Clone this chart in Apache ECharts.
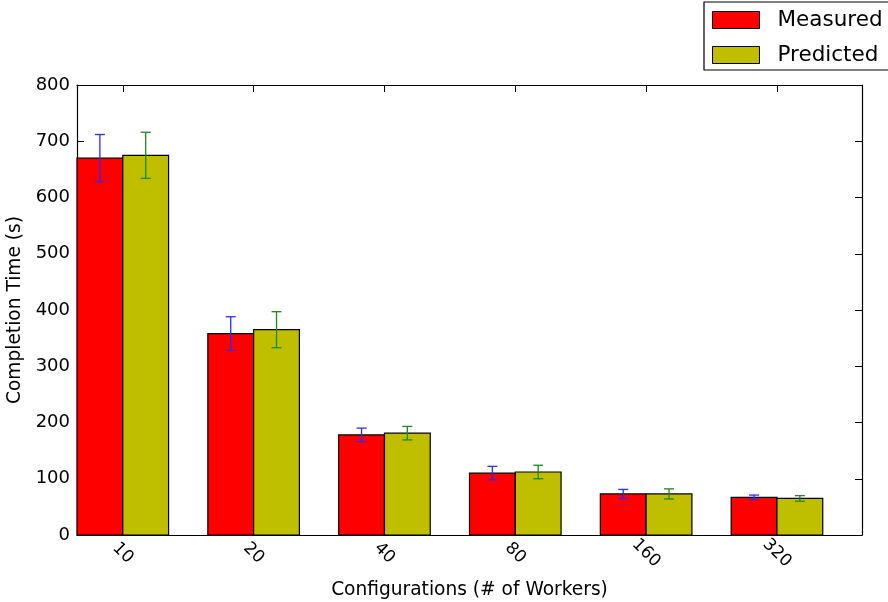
<!DOCTYPE html>
<html>
<head>
<meta charset="utf-8">
<script src="https://cdn.jsdelivr.net/npm/echarts@6/dist/echarts.min.js"></script>
<style>html,body{margin:0;padding:0;background:#fff;overflow:hidden}#c{width:888px;height:602px}</style>
</head>
<body>
<div id="c"></div>
<script>
var categories = ['10', '20', '40', '80', '160', '320'];
var measured = [670, 358, 178, 110, 73, 67];
var measuredErr = [42, 30, 12, 12, 8, 4];
var predicted = [675, 365, 181, 112, 73, 65];
var predictedErr = [41, 32, 12, 12, 9, 5];
var yTicks = [0, 100, 200, 300, 400, 500, 600, 700, 800];

var BAR_W = 0.35;
var FONT = 'DejaVu Sans';
var tickPos = categories.map(function (c, i) { return i + BAR_W; });

function makeData(vals, errs) {
  return vals.map(function (v, i) { return [i, v, errs[i]]; });
}

function makeRender(offset, errColor) {
  return function (params, api) {
    var i = api.value(0), v = api.value(1), e = api.value(2);
    var x0 = i + offset, x1 = x0 + BAR_W, xc = x0 + BAR_W / 2;
    var pTop = api.coord([x0, v]);
    var pBot = api.coord([x1, 0]);
    var eTop = api.coord([xc, v + e]);
    var eBot = api.coord([xc, v - e]);
    var cap = 5;
    var errStyle = { stroke: errColor, lineWidth: 1.3, fill: null };
    return {
      type: 'group',
      children: [
        { type: 'rect', shape: { x: pTop[0], y: pTop[1], width: pBot[0] - pTop[0], height: pBot[1] - pTop[1] },
          style: { fill: api.visual('color'), stroke: '#000', lineWidth: 1.2 } },
        { type: 'line', shape: { x1: eTop[0], y1: eTop[1], x2: eBot[0], y2: eBot[1] }, style: errStyle },
        { type: 'line', shape: { x1: eTop[0] - cap, y1: eTop[1], x2: eTop[0] + cap, y2: eTop[1] }, style: errStyle },
        { type: 'line', shape: { x1: eBot[0] - cap, y1: eBot[1], x2: eBot[0] + cap, y2: eBot[1] }, style: errStyle }
      ]
    };
  };
}

var chart = echarts.init(document.getElementById('c'), null, { renderer: 'canvas' });
var axisLineStyle = { color: '#000', width: 1.2 };
chart.setOption({
  animation: false,
  backgroundColor: '#fff',
  textStyle: { fontFamily: FONT },
  grid: { left: 77, right: 26, top: 85, bottom: 67, containLabel: false, outerBoundsMode: 'none' },
  legend: {
    orient: 'vertical',
    left: 704, top: 2,
    padding: [7, 14, 4, 8],
    itemWidth: 47, itemHeight: 17, itemGap: 13,
    icon: 'rect',
    borderColor: '#000', borderWidth: 1.2,
    textStyle: { fontFamily: FONT, fontSize: 21.5, lineHeight: 22, color: '#000', padding: [0, 0, 0, 13] },
    data: [
      { name: 'Measured', itemStyle: { color: '#ff0000', borderColor: '#000', borderWidth: 1 } },
      { name: 'Predicted', itemStyle: { color: '#bfbf00', borderColor: '#000', borderWidth: 1 } }
    ]
  },
  xAxis: [{
    type: 'value', min: 0, max: 6, position: 'bottom',
    name: 'Configurations (# of Workers)', nameLocation: 'middle', nameGap: 46,
    nameTextStyle: { fontFamily: FONT, fontSize: 18.6, color: '#000' },
    axisLine: { show: true, onZero: false, lineStyle: axisLineStyle },
    axisTick: { show: true, inside: true, length: 7, customValues: tickPos, lineStyle: { color: '#000' } },
    axisLabel: {
      customValues: tickPos, rotate: -45, align: 'center', verticalAlign: 'middle', margin: 18,
      fontFamily: FONT, fontSize: 17, color: '#000',
      formatter: function (v) { return categories[Math.round(v - BAR_W)]; }
    },
    splitLine: { show: false }
  }, {
    type: 'value', min: 0, max: 6, position: 'top',
    axisLine: { show: true, onZero: false, lineStyle: axisLineStyle },
    axisTick: { show: true, inside: true, length: 7, customValues: tickPos, lineStyle: { color: '#000' } },
    axisLabel: { show: false },
    splitLine: { show: false }
  }],
  yAxis: [{
    type: 'value', min: 0, max: 800, interval: 100, position: 'left',
    name: 'Completion Time (s)', nameLocation: 'middle', nameGap: 47, nameRotate: 90,
    nameTextStyle: { fontFamily: FONT, fontSize: 18.6, color: '#000' },
    axisLine: { show: true, onZero: false, lineStyle: axisLineStyle },
    axisTick: { show: true, inside: true, length: 7, lineStyle: { color: '#000' } },
    axisLabel: { fontFamily: FONT, fontSize: 18, color: '#000', margin: 7,
      formatter: function (v) { return yTicks.indexOf(v) >= 0 ? String(v) : ''; } },
    splitLine: { show: false }
  }, {
    type: 'value', min: 0, max: 800, interval: 100, position: 'right',
    axisLine: { show: true, onZero: false, lineStyle: axisLineStyle },
    axisTick: { show: true, inside: true, length: 7, lineStyle: { color: '#000' } },
    axisLabel: { show: false },
    splitLine: { show: false }
  }],
  series: [{
    name: 'Measured', type: 'custom', xAxisIndex: 0, yAxisIndex: 0,
    itemStyle: { color: '#ff0000', borderColor: '#000', borderWidth: 1 },
    encode: { x: 0, y: 1 },
    renderItem: makeRender(0, '#2a2aff'),
    data: makeData(measured, measuredErr)
  }, {
    name: 'Predicted', type: 'custom', xAxisIndex: 0, yAxisIndex: 0,
    itemStyle: { color: '#bfbf00', borderColor: '#000', borderWidth: 1 },
    encode: { x: 0, y: 1 },
    renderItem: makeRender(BAR_W, '#1a8a1a'),
    data: makeData(predicted, predictedErr)
  }]
});
</script>
</body>
</html>
